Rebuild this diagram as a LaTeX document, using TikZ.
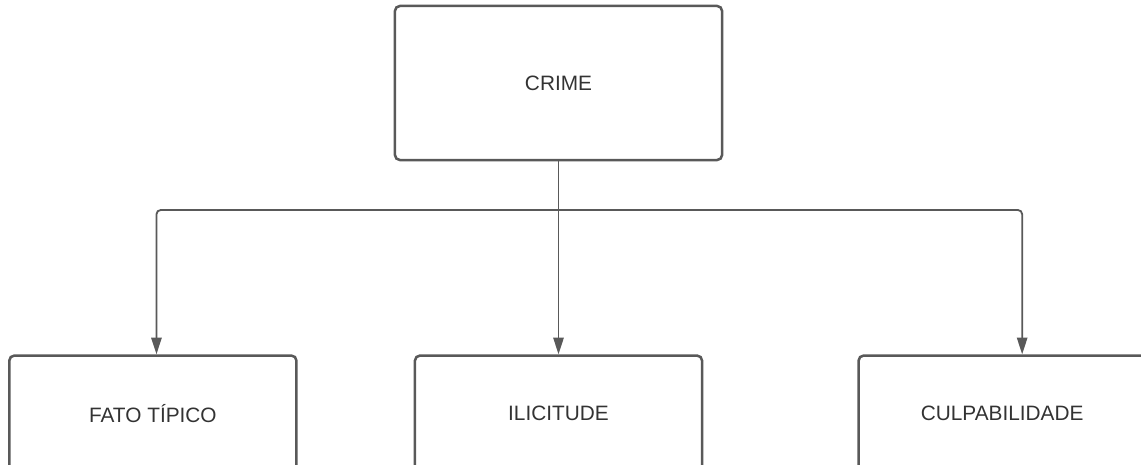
\documentclass[tikz,border=0pt]{standalone}
\usepackage{fontspec}
\setmainfont{Liberation Sans}
\usetikzlibrary{%
  arrows.meta,
  positioning,
  calc
}
\definecolor{linegray}{HTML}{595959}
\definecolor{textgray}{HTML}{333333}
\tikzstyle{bigblock} = [draw=linegray, line width=1.8pt, rounded corners=3.5pt, rectangle, minimum width=8.175cm, minimum height=3.85cm, text=textgray, font=\fontsize{14.8}{17}\selectfont]
\tikzstyle{smallblock} = [draw=linegray, line width=1.8pt, rounded corners=3.5pt, rectangle, minimum width=7.175cm, minimum height=2.9cm, text=textgray, font=\fontsize{14.8}{17}\selectfont]
\tikzstyle{link} = [draw=linegray, line width=1.3pt, rounded corners=3pt]
\tikzstyle{junction} = [coordinate]

\begin{document}
\begin{tikzpicture}[x=0.025cm, y=-0.025cm, >={Triangle[length=4.2mm, width=2.6mm]}]
        \useasboundingbox (0,0) rectangle (1141,465);
        \clip (0,0) rectangle (1141,465);
        \node[bigblock] (crime) at (558.5,83) {CRIME};
        \node[smallblock, below=4.825cm of crime] (ilicitude) {ILICITUDE};
        \node[smallblock, left=2.9cm of ilicitude] (fato) {FATO TÍPICO};
        \node[smallblock, right=3.85cm of ilicitude] (culpa) {CULPABILIDADE};
        \node[junction] (branch) at (558.5,210) {};
        \draw[link, ->] (crime) -- (ilicitude);
        \draw[link, ->] (branch) -| ([xshift=0.09cm]fato.north);
        \draw[link, ->] (branch) -| ([xshift=0.5cm]culpa.north);
      \end{tikzpicture}
\end{document}
